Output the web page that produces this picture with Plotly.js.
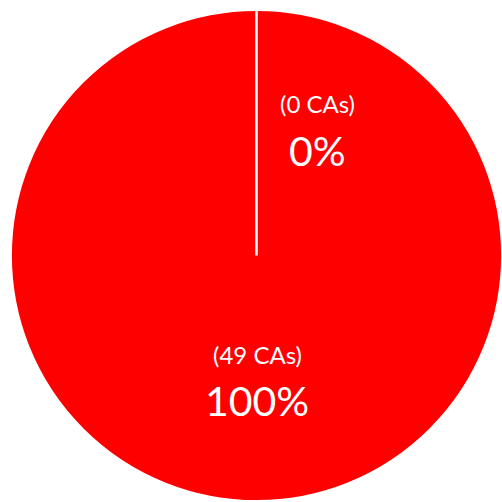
<!DOCTYPE html>
<html><head><meta charset="utf-8">
<script src="https://cdn.plot.ly/plotly-3.0.1.min.js"></script>
<style>html,body{margin:0;padding:0;background:#fff}#chart{width:502px;height:502px}</style>
</head><body><div id="chart"></div>
<script>
const categories = ["Group A", "Group B"];
const counts = [0, 49];
const unitLabel = "CAs";
const sliceColors = ["#FF0000", "#FF0000"];

const total = counts.reduce((a, b) => a + b, 0);
const pcts = counts.map(v => Math.round(100 * v / total));
// label placement (paper coords): [x, countLabelY, percentLabelY]
const labelPos = [[0.633, 0.793, 0.701], [0.512, 0.293, 0.203]];

const W = 502, H = 502;
const dom = { x: [0.0219, 1.0], y: [0.0, 0.982] };

const trace = {
  type: "pie",
  labels: categories,
  values: counts,
  sort: false,
  direction: "clockwise",
  rotation: 0,
  textinfo: "none",
  hoverinfo: "none",
  marker: { colors: sliceColors, line: { color: "#FFFFFF", width: 2 } },
  domain: dom,
  showlegend: false
};

// boundary of the zero-size slice (Plotly does not draw empty slices)
const rPx = Math.min((dom.x[1] - dom.x[0]) * W, (dom.y[1] - dom.y[0]) * H) / 2;
const cx = (dom.x[0] + dom.x[1]) / 2, cy = (dom.y[0] + dom.y[1]) / 2;
const shapes = [];
counts.forEach((v, i) => {
  if (v === 0) {
    const startFrac = counts.slice(0, i).reduce((a, b) => a + b, 0) / total;
    const ang = Math.PI / 2 - startFrac * 2 * Math.PI;
    shapes.push({
      type: "line", xref: "paper", yref: "paper",
      x0: cx, y0: cy,
      x1: cx + rPx * Math.cos(ang) / W, y1: cy + rPx * Math.sin(ang) / H,
      line: { color: "#FFFFFF", width: 2.5 }
    });
  }
});

const fontFam = "Lato, 'Open Sans', sans-serif";
const annotations = [];
counts.forEach((v, i) => {
  annotations.push({
    xref: "paper", yref: "paper", x: labelPos[i][0], y: labelPos[i][1],
    showarrow: false, xanchor: "center", yanchor: "middle",
    text: "(" + v + " " + unitLabel + ")",
    font: { family: fontFam, size: 24, color: "#FFFFFF" }
  });
  annotations.push({
    xref: "paper", yref: "paper", x: labelPos[i][0], y: labelPos[i][2],
    showarrow: false, xanchor: "center", yanchor: "middle",
    text: pcts[i] + "%",
    font: { family: fontFam, size: 41, color: "#FFFFFF" }
  });
});

Plotly.newPlot("chart", [trace], {
  width: W, height: H,
  margin: { l: 0, r: 0, t: 0, b: 0 },
  paper_bgcolor: "#FFFFFF",
  shapes: shapes,
  annotations: annotations
}, { staticPlot: true });
</script></body></html>
